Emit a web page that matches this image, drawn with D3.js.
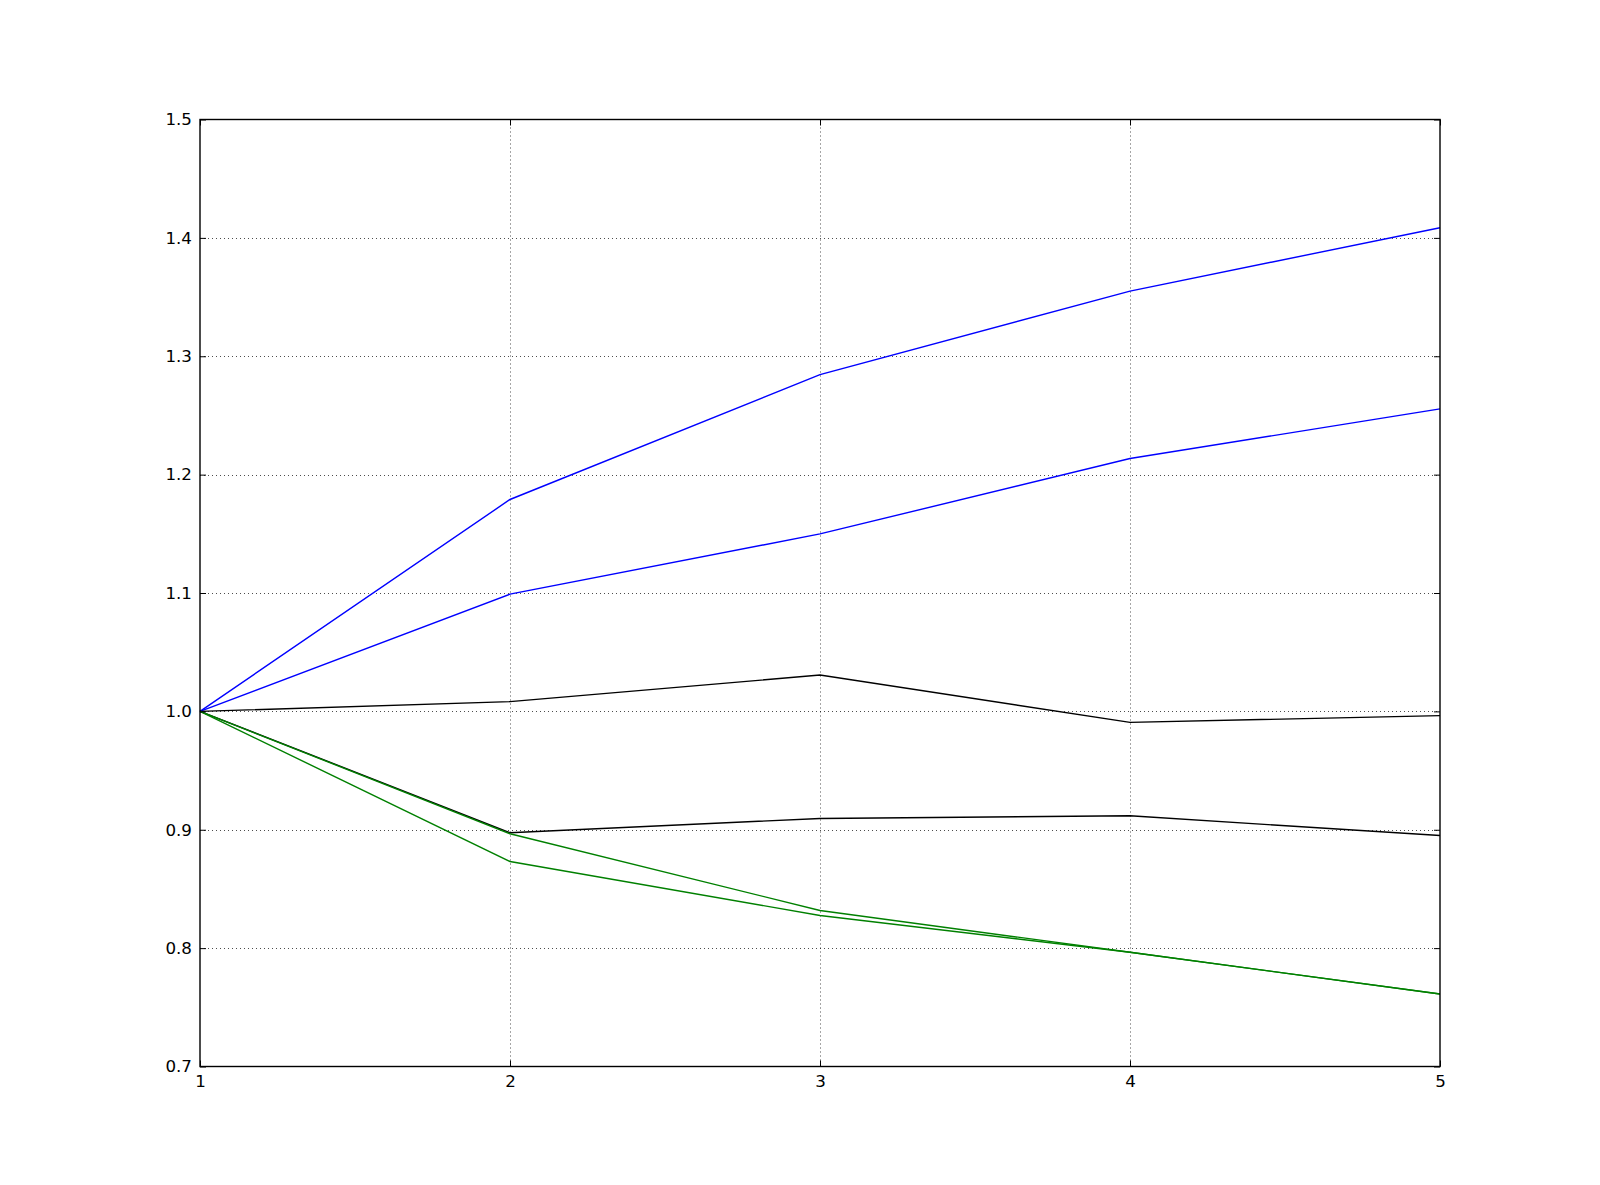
<!DOCTYPE html>
<html><head><meta charset="utf-8">
<script src="https://cdn.jsdelivr.net/npm/d3@7"></script>
<style>body{margin:0;background:#fff}svg{display:block}text{font-family:"DejaVu Sans",sans-serif}</style>
</head><body><div id="c"></div>
<script>
const xValues = [1, 2, 3, 4, 5];
const xTicks = [1, 2, 3, 4, 5];
const yTicks = [0.7, 0.8, 0.9, 1.0, 1.1, 1.2, 1.3, 1.4, 1.5];
const blueHigh = [1.0, 1.179, 1.2845, 1.355, 1.4086];
const blueLow = [1.0, 1.099, 1.1499, 1.2136, 1.2555];
const blackHigh = [1.0, 1.0082, 1.0307, 0.9907, 0.9964];
const blackLow = [1.0, 0.8975, 0.9095, 0.9118, 0.8951];
const greenHigh = [1.0, 0.8966, 0.8318, 0.7965, 0.7613];
const greenLow = [1.0, 0.8732, 0.8276, 0.7965, 0.7613];
const seriesList = [
  {values: blueHigh, color: "#0000ff"},
  {values: blueLow, color: "#0000ff"},
  {values: blackHigh, color: "#000000"},
  {values: blackLow, color: "#000000"},
  {values: greenHigh, color: "#008000"},
  {values: greenLow, color: "#008000"}
];

(function () {
const W = 1600, H = 1185;
const L = 200, R = 1440, T = 119.5, B = 1066.5;
const svg = d3.select("#c").append("svg").attr("width", W).attr("height", H);
const x = d3.scaleLinear().domain([1, 5]).range([L, R]);
const y = d3.scaleLinear().domain([0.7, 1.5]).range([B, T]);

// grid
const g = svg.append("g");
g.selectAll("line.gx").data(xTicks.slice(1, -1)).join("line")
  .attr("x1", d => Math.round(x(d)) + 0.5).attr("x2", d => Math.round(x(d)) + 0.5)
  .attr("y1", T).attr("y2", B)
  .attr("stroke", "#000").attr("stroke-width", 0.7).attr("stroke-dasharray", "1,3");
g.selectAll("line.gy").data(yTicks.slice(1, -1)).join("line")
  .attr("y1", d => Math.round(y(d)) + 0.5).attr("y2", d => Math.round(y(d)) + 0.5)
  .attr("x1", L).attr("x2", R)
  .attr("stroke", "#000").attr("stroke-width", 0.7).attr("stroke-dasharray", "1,3");

// lines
const line = d3.line().x((d, i) => x(xValues[i])).y(d => y(d));
svg.selectAll("path.s").data(seriesList).join("path")
  .attr("d", d => line(d.values)).attr("fill", "none")
  .attr("stroke", d => d.color).attr("stroke-width", 1.4);

// axes (inward ticks on all sides)
const tickLen = 6;
const ax = svg.append("g");
const axB = d3.axisBottom(x).tickValues(xTicks).tickFormat(d3.format("d")).tickSizeInner(-tickLen).tickSizeOuter(0).tickPadding(9);
const axT = d3.axisTop(x).tickValues(xTicks).tickFormat("").tickSizeInner(-tickLen).tickSizeOuter(0);
const axL = d3.axisLeft(y).tickValues(yTicks).tickFormat(d3.format(".1f")).tickSizeInner(-tickLen).tickSizeOuter(0).tickPadding(8);
const axR = d3.axisRight(y).tickValues(yTicks).tickFormat("").tickSizeInner(-tickLen).tickSizeOuter(0);
ax.append("g").attr("transform", `translate(0,${B})`).call(axB);
ax.append("g").attr("transform", `translate(0,${T})`).call(axT);
ax.append("g").attr("transform", `translate(${L},0)`).call(axL);
ax.append("g").attr("transform", `translate(${R},0)`).call(axR);
ax.selectAll(".domain").remove();
ax.selectAll(".tick line").attr("stroke", "#000").attr("stroke-width", 1);
ax.selectAll(".tick text").attr("font-size", "16.7px").attr("fill", "#000").attr("font-family", "DejaVu Sans");

svg.append("rect").attr("x", L).attr("y", T).attr("width", R - L).attr("height", B - T)
  .attr("fill", "none").attr("stroke", "#000").attr("stroke-width", 1.4);
})();
</script></body></html>
